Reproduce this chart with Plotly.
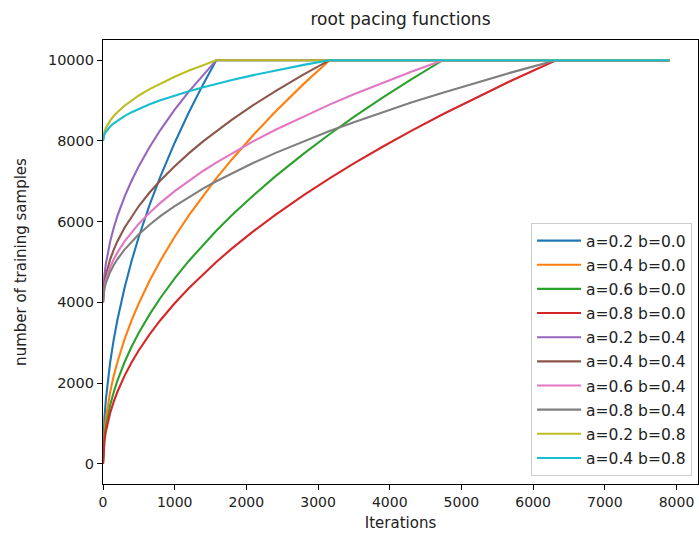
import plotly.graph_objects as go

# Training iterations at which each schedule is sampled
iterations = [0, 10, 20, 40, 70, 100, 150, 200, 300, 400, 500, 650, 800, 1000, 1200,
              1400, 1580, 1800, 2100, 2400, 2800, 3160, 3500, 3900, 4300, 4740, 5200,
              5700, 6320, 7900]

# Number of training samples for each (a, b) pacing setting
a02_b00 = [0, 796, 1125, 1591, 2105, 2516, 3081, 3558, 4358, 5032, 5625, 6414, 7116, 7956, 8715,
           9413, 10000, 10000, 10000, 10000, 10000, 10000, 10000, 10000, 10000, 10000, 10000,
           10000, 10000, 10000]
a04_b00 = [0, 563, 796, 1125, 1488, 1779, 2179, 2516, 3081, 3558, 3978, 4535, 5032, 5625, 6162,
           6656, 7071, 7547, 8152, 8715, 9413, 10000, 10000, 10000, 10000, 10000, 10000,
           10000, 10000, 10000]
a06_b00 = [0, 459, 650, 919, 1215, 1453, 1779, 2054, 2516, 2905, 3248, 3703, 4108, 4593, 5032,
           5435, 5774, 6162, 6656, 7116, 7686, 8165, 8593, 9071, 9525, 10000, 10000,
           10000, 10000, 10000]
a08_b00 = [0, 398, 563, 796, 1053, 1258, 1541, 1779, 2179, 2516, 2813, 3207, 3558, 3978, 4358,
           4707, 5000, 5337, 5764, 6162, 6656, 7071, 7442, 7856, 8249, 8660, 9071,
           9497, 10000, 10000]
a02_b04 = [4000, 4477, 4675, 4955, 5263, 5509, 5849, 6135, 6615, 7019, 7375, 7848, 8269, 8773, 9229,
           9648, 10000, 10000, 10000, 10000, 10000, 10000, 10000, 10000, 10000, 10000, 10000,
           10000, 10000, 10000]
a04_b04 = [4000, 4338, 4477, 4675, 4893, 5067, 5307, 5509, 5849, 6135, 6387, 6721, 7019, 7375, 7697,
           7994, 8243, 8528, 8891, 9229, 9648, 10000, 10000, 10000, 10000, 10000, 10000,
           10000, 10000, 10000]
a06_b04 = [4000, 4276, 4390, 4551, 4729, 4872, 5067, 5232, 5509, 5743, 5949, 6222, 6465, 6756, 7019,
           7261, 7464, 7697, 7994, 8269, 8611, 8899, 9156, 9442, 9715, 10000, 10000,
           10000, 10000, 10000]
a08_b04 = [4000, 4239, 4338, 4477, 4632, 4755, 4924, 5067, 5307, 5509, 5688, 5924, 6135, 6387, 6615,
           6824, 7000, 7202, 7459, 7697, 7994, 8243, 8465, 8713, 8949, 9196, 9442,
           9698, 10000, 10000]
a02_b08 = [8000, 8159, 8225, 8318, 8421, 8503, 8616, 8712, 8872, 9006, 9125, 9283, 9423, 9591, 9743,
           9883, 10000, 10000, 10000, 10000, 10000, 10000, 10000, 10000, 10000, 10000, 10000,
           10000, 10000, 10000]
a04_b08 = [8000, 8113, 8159, 8225, 8298, 8356, 8436, 8503, 8616, 8712, 8796, 8907, 9006, 9125, 9232,
           9331, 9414, 9509, 9630, 9743, 9883, 10000, 10000, 10000, 10000, 10000, 10000,
           10000, 10000, 10000]

series_names = ["a=0.2 b=0.0", "a=0.4 b=0.0", "a=0.6 b=0.0", "a=0.8 b=0.0",
                "a=0.2 b=0.4", "a=0.4 b=0.4", "a=0.6 b=0.4", "a=0.8 b=0.4",
                "a=0.2 b=0.8", "a=0.4 b=0.8"]
series_values = [a02_b00, a04_b00, a06_b00, a08_b00,
                 a02_b04, a04_b04, a06_b04, a08_b04,
                 a02_b08, a04_b08]
colors = ["#1f77b4", "#ff7f0e", "#2ca02c", "#d62728", "#9467bd",
          "#8c564b", "#e377c2", "#7f7f7f", "#bcbd22", "#17becf"]

x_ticks = [0, 1000, 2000, 3000, 4000, 5000, 6000, 7000, 8000]
y_ticks = [0, 2000, 4000, 6000, 8000, 10000]

FONT = "DejaVu Sans"
TXT = "#222222"

fig = go.Figure()
for name, vals, col in zip(series_names, series_values, colors):
    fig.add_trace(go.Scatter(
        x=iterations, y=vals, mode="lines", name=name, legendgroup=name,
        line=dict(color=col, width=2.1),
    ))

axis_common = dict(
    showgrid=False, zeroline=False,
    showline=True, linecolor="black", linewidth=1.1, mirror=True,
    ticks="outside", ticklen=5, tickwidth=1.1, tickcolor="black",
    ticklabeloverflow="allow", automargin=False,
)

fig.update_layout(
    width=699, height=535,
    margin=dict(l=103, r=1, t=40, b=51),
    paper_bgcolor="white", plot_bgcolor="white",
    font=dict(family=FONT, color=TXT),
    title=dict(text="root pacing functions", x=(103 + 698) / 2 / 699, xanchor="center",
               y=1 - 19 / 535, yanchor="middle",
               font=dict(family=FONT, size=17, color=TXT)),
    xaxis=dict(range=[0, 8300], tickvals=x_ticks, ticktext=[str(v) for v in x_ticks],
               tickfont=dict(family=FONT, size=14, color=TXT),
               title=dict(text="Iterations", font=dict(family=FONT, size=15), standoff=8),
               **axis_common),
    yaxis=dict(range=[-500, 10500], tickvals=y_ticks, ticktext=[str(v) for v in y_ticks],
               tickfont=dict(family=FONT, size=14.5, color=TXT),
               title=dict(text="number of training samples", font=dict(family=FONT, size=15),
                          standoff=17),
               **axis_common),
    legend=dict(
        x=0.99, y=0.018, xanchor="right", yanchor="bottom",
        bgcolor="white", bordercolor="#cccccc", borderwidth=1,
        font=dict(family=FONT, size=15.5, color=TXT),
        tracegroupgap=1, itemwidth=44,
    ),
    showlegend=True,
)

fig.write_html("out.html")
